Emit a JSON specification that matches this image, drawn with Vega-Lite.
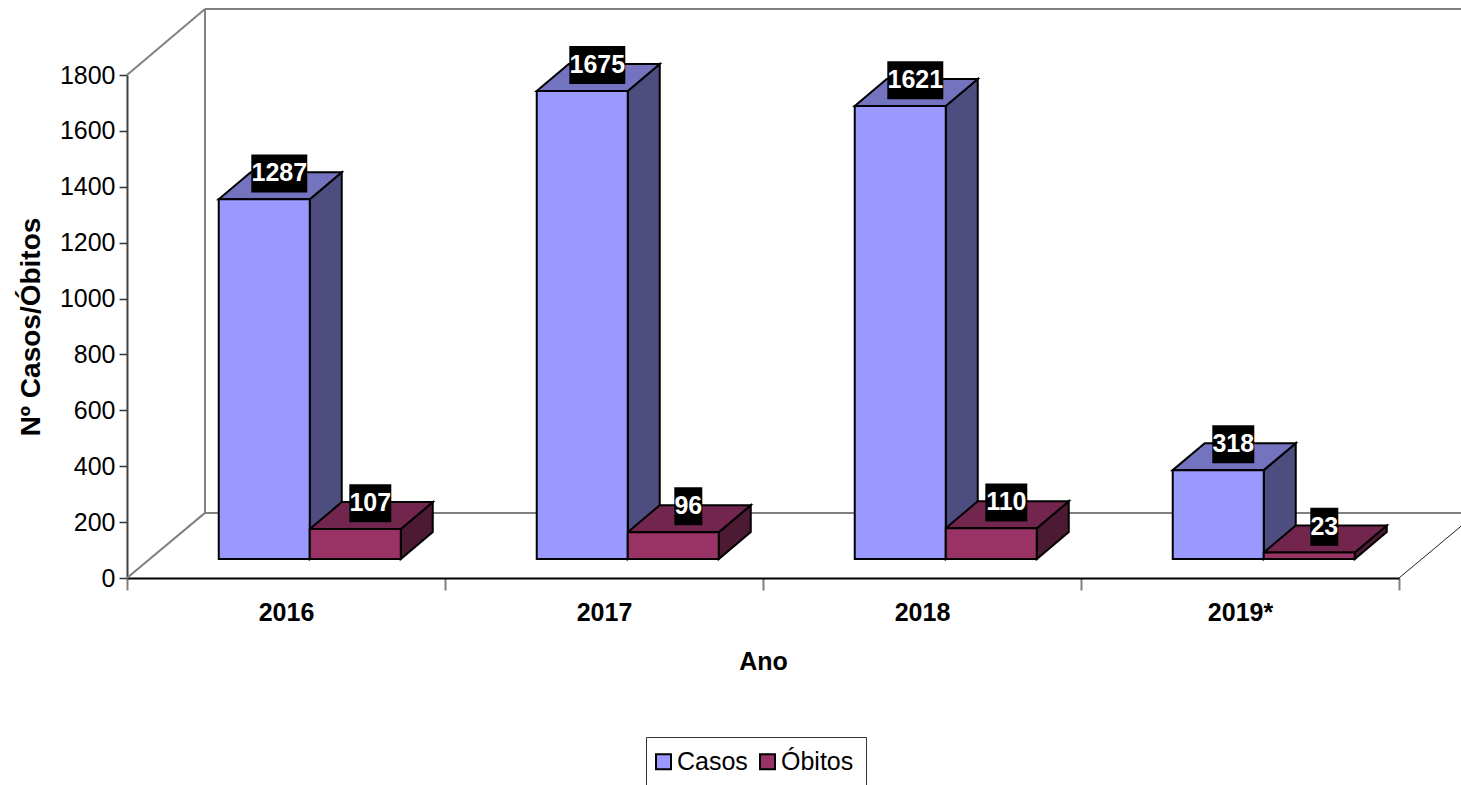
{
  "$schema": "https://vega.github.io/schema/vega-lite/v6.json",
  "width": 1272,
  "height": 503,
  "autosize": {"type": "none"},
  "padding": {"left": 127, "top": 75, "right": 62, "bottom": 207},
  "background": "white",
  "config": {"view": {"stroke": null}, "font": "Liberation Sans"},
  "datasets": {
    "wall": [
      {"x": 0, "y": 1800, "x2": 0.2453, "y2": 2036},
      {"x": 0.2453, "y": 233, "x2": 0.2453, "y2": 2036},
      {"x": 0.2453, "y": 2036, "x2": 4.2453, "y2": 2036},
      {"x": 0, "y": 0, "x2": 0.2453, "y2": 233},
      {"x": 0.2453, "y": 233, "x2": 4.2453, "y2": 233}
    ],
    "floorEdge": [
      {"x": 4, "y": 0, "x2": 4.2453, "y2": 233}
    ]
  },
  "data": {
    "values": [
      {"ano": "2016", "serie": "Casos", "valor": 1287},
      {"ano": "2016", "serie": "Óbitos", "valor": 107},
      {"ano": "2017", "serie": "Casos", "valor": 1675},
      {"ano": "2017", "serie": "Óbitos", "valor": 96},
      {"ano": "2018", "serie": "Casos", "valor": 1621},
      {"ano": "2018", "serie": "Óbitos", "valor": 110},
      {"ano": "2019*", "serie": "Casos", "valor": 318},
      {"ano": "2019*", "serie": "Óbitos", "valor": 23}
    ]
  },
  "transform": [
    {"calculate": "indexof(['2016','2017','2018','2019*'], datum.ano) + 0.2885 + (datum.serie === 'Casos' ? 0 : 0.2862)", "as": "esq"},
    {"calculate": "datum.esq + 0.2862", "as": "dir"},
    {"calculate": "68", "as": "base"},
    {"calculate": "datum.base + datum.valor", "as": "topo"},
    {"calculate": "0.1006", "as": "profX"},
    {"calculate": "96.6", "as": "profY"}
  ],
  "layer": [
    {
      "mark": {"type": "point", "opacity": 0},
      "encoding": {
        "x": {
          "field": "ano",
          "type": "nominal",
          "sort": null,
          "scale": {"type": "band", "paddingInner": 0, "paddingOuter": 0},
          "axis": {
            "title": "Ano",
            "labelAngle": 0,
            "labelFont": "Liberation Sans",
            "labelFontSize": 25,
            "labelFontWeight": "bold",
            "labelColor": "black",
            "labelPadding": 10,
            "tickBand": "extent",
            "tickSize": 12,
            "tickWidth": 2,
            "tickColor": "#808080",
            "domainColor": "black",
            "domainWidth": 2,
            "titleFont": "Liberation Sans",
            "titleFontSize": 25,
            "titleFontWeight": "bold",
            "titleColor": "black",
            "titlePadding": 24
          }
        },
        "y": {
          "field": "topo",
          "type": "quantitative",
          "scale": {"domain": [0, 1800], "nice": false},
          "axis": {
            "orient": "left",
            "title": "Nº Casos/Óbitos",
            "values": [0, 200, 400, 600, 800, 1000, 1200, 1400, 1600, 1800],
            "format": "d",
            "grid": false,
            "labelFont": "Liberation Sans",
            "labelFontSize": 25,
            "labelColor": "black",
            "labelPadding": 4,
            "tickSize": 8,
            "tickWidth": 1.5,
            "tickColor": "#333333",
            "domainColor": "#404040",
            "domainWidth": 2,
            "titleFont": "Liberation Sans",
            "titleFontSize": 28,
            "titleFontWeight": "bold",
            "titleColor": "black",
            "titlePadding": 14
          }
        }
      }
    },
    {
      "layer": [
        {
          "data": {"name": "wall"},
          "transform": [],
          "mark": {"type": "rule", "color": "#808080", "strokeWidth": 2},
          "encoding": {
            "x": {"field": "x", "type": "quantitative", "scale": {"domain": [0, 4], "nice": false, "zero": false}, "axis": null},
            "x2": {"field": "x2"},
            "y": {"field": "y", "type": "quantitative", "scale": {"domain": [0, 1800], "nice": false}, "axis": null},
            "y2": {"field": "y2"}
          }
        },
        {
          "data": {"name": "floorEdge"},
          "transform": [],
          "mark": {"type": "rule", "color": "#222222", "strokeWidth": 1},
          "encoding": {
            "x": {"field": "x", "type": "quantitative", "scale": {"domain": [0, 4], "nice": false, "zero": false}, "axis": null},
            "x2": {"field": "x2"},
            "y": {"field": "y", "type": "quantitative", "scale": {"domain": [0, 1800], "nice": false}, "axis": null},
            "y2": {"field": "y2"}
          }
        },
        {
          "transform": [
            {"calculate": "[datum.dir, datum.dir + datum.profX]", "as": "px"},
            {"calculate": "[datum.topo, datum.topo + datum.profY]", "as": "py"},
            {"calculate": "[datum.base, datum.base + datum.profY]", "as": "pb"},
            {"flatten": ["px", "py", "pb"]}
          ],
          "mark": {"type": "area", "stroke": "black", "strokeWidth": 2, "line": false},
          "encoding": {
            "x": {"field": "px", "type": "quantitative", "scale": {"domain": [0, 4], "nice": false, "zero": false}, "axis": null},
            "y": {"field": "py", "type": "quantitative", "stack": null, "scale": {"domain": [0, 1800], "nice": false}, "axis": null},
            "y2": {"field": "pb"},
            "detail": {"field": "ano"},
            "fill": {"field": "serie", "type": "nominal", "scale": {"domain": ["Casos", "Óbitos"], "range": ["#4D4D80", "#4D1A33"]}, "legend": null}
          }
        },
        {
          "transform": [
            {"calculate": "[datum.esq, datum.esq + datum.profX, datum.dir, datum.dir + datum.profX]", "as": "px"},
            {"calculate": "[datum.topo, datum.topo + datum.profY, datum.topo + datum.profY, datum.topo + datum.profY]", "as": "py"},
            {"calculate": "[datum.topo, datum.topo, datum.topo, datum.topo + datum.profY]", "as": "pb"},
            {"flatten": ["px", "py", "pb"]}
          ],
          "mark": {"type": "area", "stroke": "black", "strokeWidth": 2, "line": false},
          "encoding": {
            "x": {"field": "px", "type": "quantitative", "scale": {"domain": [0, 4], "nice": false, "zero": false}, "axis": null},
            "y": {"field": "py", "type": "quantitative", "stack": null, "scale": {"domain": [0, 1800], "nice": false}, "axis": null},
            "y2": {"field": "pb"},
            "detail": {"field": "ano"},
            "fill": {"field": "serie", "type": "nominal", "scale": {"domain": ["Casos", "Óbitos"], "range": ["#7373BF", "#73264D"]}, "legend": null}
          }
        },
        {
          "mark": {"type": "rect", "stroke": "black", "strokeWidth": 2},
          "encoding": {
            "x": {"field": "esq", "type": "quantitative", "scale": {"domain": [0, 4], "nice": false, "zero": false}, "axis": null},
            "x2": {"field": "dir"},
            "y": {"field": "topo", "type": "quantitative", "scale": {"domain": [0, 1800], "nice": false}, "axis": null},
            "y2": {"field": "base"},
            "fill": {
              "field": "serie",
              "type": "nominal",
              "scale": {"domain": ["Casos", "Óbitos"], "range": ["#9999FF", "#993366"]},
              "legend": {
                "title": null,
                "orient": "none",
                "legendX": 519,
                "legendY": 662,
                "direction": "horizontal",
                "columns": 2,
                "columnPadding": 8,
                "padding": 12,
                "fillColor": "white",
                "strokeColor": "#333333",
                "symbolType": "square",
                "symbolSize": 225,
                "symbolOffset": -7,
                "symbolStrokeColor": "black",
                "symbolStrokeWidth": 2,
                "labelFont": "Liberation Sans",
                "labelFontSize": 25,
                "labelColor": "black",
                "labelOffset": 1
              }
            }
          }
        },
        {
          "transform": [
            {"calculate": "(datum.esq + datum.dir + datum.profX) / 2 - 0.003 - length(format(datum.valor, 'd')) * 0.022", "as": "rotuloEsq"},
            {"calculate": "(datum.esq + datum.dir + datum.profX) / 2 - 0.003 + length(format(datum.valor, 'd')) * 0.022", "as": "rotuloDir"},
            {"calculate": "datum.topo + datum.profY - 72", "as": "rotuloBase"},
            {"calculate": "datum.topo + datum.profY + 64", "as": "rotuloTopo"}
          ],
          "mark": {"type": "rect", "fill": "black"},
          "encoding": {
            "x": {"field": "rotuloEsq", "type": "quantitative", "scale": {"domain": [0, 4], "nice": false, "zero": false}, "axis": null},
            "x2": {"field": "rotuloDir"},
            "y": {"field": "rotuloBase", "type": "quantitative", "scale": {"domain": [0, 1800], "nice": false}, "axis": null},
            "y2": {"field": "rotuloTopo"}
          }
        },
        {
          "transform": [
            {"calculate": "(datum.esq + datum.dir + datum.profX) / 2 - 0.003", "as": "rotuloX"},
            {"calculate": "datum.topo + datum.profY - 4", "as": "rotuloY"}
          ],
          "mark": {
            "type": "text",
            "font": "Liberation Sans",
            "fontSize": 25,
            "fontWeight": "bold",
            "color": "white",
            "align": "center",
            "baseline": "middle"
          },
          "encoding": {
            "x": {"field": "rotuloX", "type": "quantitative", "scale": {"domain": [0, 4], "nice": false, "zero": false}, "axis": null},
            "y": {"field": "rotuloY", "type": "quantitative", "scale": {"domain": [0, 1800], "nice": false}, "axis": null},
            "text": {"field": "valor", "type": "quantitative", "format": "d"}
          }
        }
      ],
      "resolve": {"scale": {"fill": "independent"}}
    }
  ],
  "resolve": {"scale": {"x": "independent"}, "axis": {"y": "independent"}}
}
